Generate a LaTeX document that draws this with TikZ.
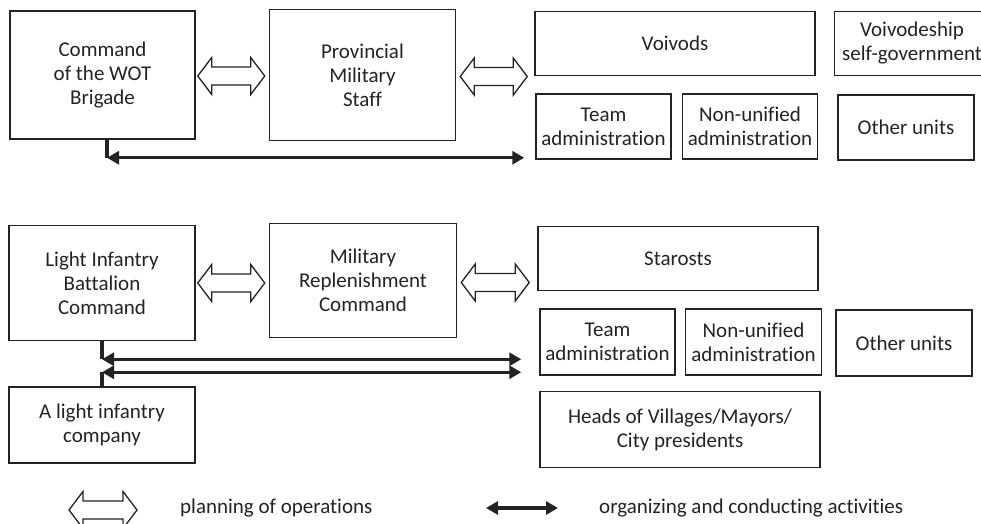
\documentclass[tikz,border=0pt]{standalone}
\usepackage{fontspec}
\setmainfont{Carlito}[Ligatures=NoCommon]
\usepackage{tikz}
\usetikzlibrary{arrows.meta, positioning, calc}
\usepackage{xcolor}
\definecolor{inkgray}{RGB}{35,35,35}
\newcommand{\boxfont}{\fontsize{21}{24}\selectfont}
\tikzset{
  unitbox/.style={
    rectangle, draw=inkgray, line width=1.5pt, align=center, text=inkgray, font=\boxfont, inner sep=2pt
  },
  linkline/.style={line width=3.2pt, color=inkgray},
  linkarrow/.style={linkline, {Triangle[length=12pt,width=13pt]}-{Triangle[length=12pt,width=13pt]}},
  planarrow/.style={draw=inkgray, line width=1.3pt, fill=white, line join=miter},
  legendtext/.style={font=\boxfont, text=inkgray, anchor=west, inner sep=0pt}
}
\newcommand{\planlink}[2]{%
  \draw[planarrow] let \p1=#1, \p2=#2 in
    (\x1,\y1) -- (\x1+14pt,\y1+18.5pt) -- (\x1+14pt,\y1+9pt) -- (\x2-14pt,\y1+9pt)
    -- (\x2-14pt,\y1+18.5pt) -- (\x2,\y1) -- (\x2-14pt,\y1-18.5pt) -- (\x2-14pt,\y1-9pt)
    -- (\x1+14pt,\y1-9pt) -- (\x1+14pt,\y1-18.5pt) -- cycle;}

\begin{document}
\begin{tikzpicture}
  \useasboundingbox (0,0) rectangle (981pt,-523pt);

  % voivodeship level
  \node[unitbox, minimum width=185pt, minimum height=128pt] (cmd) at (102.5pt,-75pt)
        {Command\\of the WOT\\Brigade};
  \node[unitbox, right=73pt of cmd, minimum width=186pt, minimum height=131pt] (pms)
        {Provincial\\Military\\Staff};
  \node[unitbox, right=78pt of pms.north east, anchor=north west, yshift=-2pt,
        minimum width=280pt, minimum height=64pt] (voi) {Voivods};
  \node[unitbox, right=18pt of voi, minimum width=155pt, minimum height=64pt] (sgv)
        {Voivodeship\\self-government};
  \node[unitbox, below=17pt of voi.south west, anchor=north west, xshift=1pt,
        minimum width=135pt, minimum height=65pt] (tea1) {Team\\administration};
  \node[unitbox, right=10pt of tea1, minimum width=135pt, minimum height=65pt] (non1)
        {Non-unified\\administration};
  \node[unitbox, right=19pt of non1, yshift=-1pt, minimum width=136pt, minimum height=65pt] (oth1)
        {Other units};

  % district level
  \node[unitbox, below=85pt of cmd.south west, anchor=north west, xshift=-1pt,
        minimum width=186pt, minimum height=115pt] (lib) {Light Infantry\\Battalion\\Command};
  \node[unitbox, right=73pt of lib.north east, anchor=north west, yshift=2pt,
        minimum width=187pt, minimum height=114pt] (mrc) {Military\\Replenishment\\Command};
  \node[unitbox, right=80pt of mrc.north east, anchor=north west, yshift=-3pt,
        minimum width=280pt, minimum height=64pt] (sta) {Starosts};
  \node[unitbox, below=17pt of sta.south west, anchor=north west, xshift=2pt,
        minimum width=135pt, minimum height=66pt] (tea2) {Team\\administration};
  \node[unitbox, right=9pt of tea2, minimum width=136pt, minimum height=66pt] (non2)
        {Non-unified\\administration};
  \node[unitbox, right=13pt of non2, yshift=-1pt, minimum width=136pt, minimum height=66pt] (oth2)
        {Other units};
  \node[unitbox, below=15pt of tea2.south west, anchor=north west,
        minimum width=280pt, minimum height=76pt] (hea) {Heads of Villages/Mayors/\\City presidents};
  \node[unitbox, below=45pt of lib.south west, anchor=north west,
        minimum width=186pt, minimum height=76pt] (com) {A light infantry\\company};

  % planning of operations
  \planlink{($(cmd.east)+(2pt,-1pt)$)}{($(pms.west)+(-4pt,-1pt)$)}
  \planlink{($(pms.east)+(4pt,-1.5pt)$)}{($(voi.west)+(-7pt,0)$)}
  \planlink{($(lib.east)+(2pt,0)$)}{($(mrc.west)+(-4pt,0)$)}
  \planlink{($(mrc.east)+(4pt,-2pt)$)}{($(sta.west)+(-8pt,0)$)}

  % organizing and conducting activities
  \draw[linkline] ($(cmd.south)+(4.5pt,0)$) -- ++(0,-18pt) coordinate (cmdjoin);
  \coordinate (tea1end) at ($(tea1.south west)+(-11pt,1pt)$);
  \draw[linkarrow] (cmdjoin) -- (cmdjoin -| tea1end);
  \draw[linkline] (lib.south) -- ++(0,-18pt) coordinate (libjoin);
  \draw[linkline] (com.north) -- ++(0,14pt) coordinate (comjoin);
  \coordinate (tea2end) at ($(tea2.west)+(-18pt,0)$);
  \draw[linkarrow] (libjoin) -- (libjoin -| tea2end);
  \draw[linkarrow] (comjoin) -- (comjoin -| tea2end);

  % legend
  \node[legendtext] (plantxt) at (180pt,-508pt) {planning of operations};
  \node[legendtext] (acttxt) at (599pt,-508pt) {organizing and conducting activities};
  \coordinate (planA) at ($(plantxt.west)+(-111pt,-2pt)$);
  \coordinate (planB) at ($(plantxt.west)+(-43pt,-2pt)$);
  \planlink{(planA)}{(planB)}
  \coordinate (actA) at ($(acttxt.west)+(-113pt,0)$);
  \coordinate (actB) at ($(acttxt.west)+(-41pt,0)$);
  \draw[linkarrow] (actA) -- (actB);
\end{tikzpicture}
\end{document}
